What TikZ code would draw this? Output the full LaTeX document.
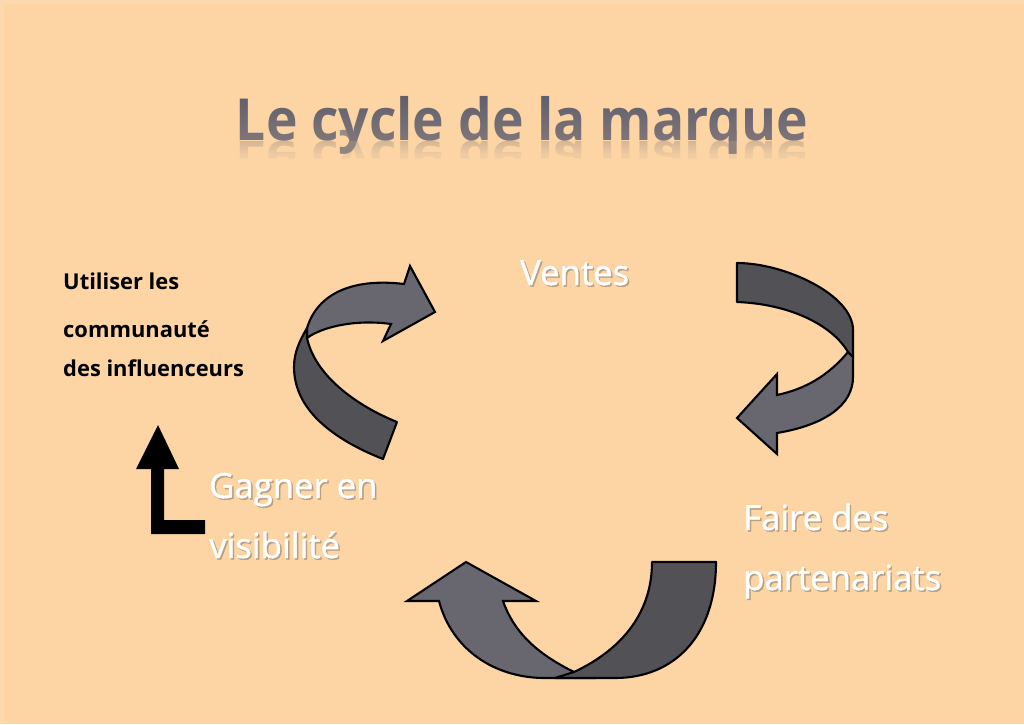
\documentclass[tikz,border=0pt]{standalone}
\usepackage{fontspec}
\setmainfont{Open Sans}
\newfontfamily\labelfont[FakeBold=1.2]{Open Sans}
\usepackage{xcolor}
\usetikzlibrary{fadings}
\definecolor{backcolor}{HTML}{FDD5A5}
\definecolor{edgecolor}{HTML}{FDD9AF}
\definecolor{bandcolor}{HTML}{525156}
\definecolor{headcolor}{HTML}{68666E}
\definecolor{shadowcolor}{HTML}{B9A081}
\definecolor{titlecolor}{HTML}{4A4E66}
\newcommand{\softtext}[1]{\leavevmode\rlap{\kern1.5pt\raisebox{-1.5pt}{\textcolor{shadowcolor}{#1}}}#1}
\tikzfading[name=titlefade,top color=transparent!90,bottom color=transparent!70]
\tikzfading[name=mirrorfade,top color=transparent!50,bottom color=transparent!0]
\tikzset{
  band/.style={draw=black,line width=2.1pt,line join=round,fill=bandcolor},
  head/.style={draw=black,line width=2.1pt,line join=miter,fill=headcolor},
  bigtext/.style={anchor=base west,inner sep=0pt,text=white,font=\fontsize{34.7}{34.7}\labelfont},
  smalltext/.style={anchor=base west,inner sep=0pt,text=black,font=\fontsize{21.9}{21.9}\selectfont\bfseries},
  titletext/.style={anchor=base,inner sep=0pt,font=\fontsize{58}{58}\selectfont\bfseries}
}
\begin{document}
\begin{tikzpicture}[x=1pt,y=-1pt]
  \fill[backcolor] (0,0) rectangle (1024,724);
  \useasboundingbox (0,0) rectangle (1024,724);
  \draw[edgecolor,line width=4pt] (2,724) -- (2,2) -- (1024,2);

  % title and its mirror image
  \node[titletext,text=titlecolor!75!backcolor,xscale=0.92,yscale=-0.8] (mirror) at (522,141) {Le cycle de la marque};
  \fill[backcolor,path fading=mirrorfade] (225,141) rectangle (820,160);
  \fill[backcolor] (225,159) rectangle (820,185);
  \node[titletext,text=titlecolor,xscale=0.92] (title) at (522,140) {Le cycle de la marque};
  \fill[backcolor,path fading=titlefade] (225,90) rectangle (820,141);
  \fill[backcolor,opacity=0.4] (225,141) rectangle (820,156);

  % right arrow
  \coordinate (rightA) at (737,263);
  \coordinate (rightB) at (737,302);
  \coordinate (rightC) at (853,357);
  \coordinate (rightD) at (848,352);
  \draw[head] (rightD)
    .. controls (828,376) and (805,389) .. (777,395)
    -- (777,374) -- (737,418) -- (777,454) -- (777,433)
    .. controls (825,425) and (853,405) .. (853,377)
    -- (rightC) -- cycle;
  \draw[band] (rightA) -- (rightB)
    .. controls (790,304) and (832,325) .. (rightD)
    -- (rightC) -- (853,330)
    .. controls (853,295) and (785,263) .. (rightA) -- cycle;

  % bottom arrow
  \coordinate (lowA) at (652,562);
  \coordinate (lowB) at (716,562);
  \coordinate (lowC) at (574,672);
  \draw[head] (lowC)
    .. controls (540,655) and (515,635) .. (503,601)
    -- (536,601) -- (466,562) -- (407,601) -- (439,601)
    .. controls (452,650) and (495,678) .. (545,678)
    -- (590,678) -- cycle;
  \draw[band] (lowA) -- (lowB)
    .. controls (716,635) and (675,678) .. (615,678)
    -- (555,678) -- (lowC)
    .. controls (625,648) and (652,610) .. (lowA) -- cycle;

  % left arrow
  \coordinate (leftA) at (397,422);
  \coordinate (leftB) at (383,459);
  \coordinate (leftC) at (307,328);
  \coordinate (leftD) at (307,338);
  \draw[head] (leftD)
    .. controls (322,327) and (355,319) .. (391,324)
    -- (383,341) -- (435,312) -- (410,266) -- (404,284)
    .. controls (355,278) and (318,292) .. (leftC) -- cycle;
  \draw[band] (leftA) -- (leftB)
    .. controls (330,438) and (294,408) .. (294,367)
    .. controls (294,352) and (300,340) .. (leftC)
    -- (leftD)
    .. controls (315,375) and (355,405) .. (leftA) -- cycle;

  % black corner arrow
  \fill[black] (158,425) -- (179,469) -- (164,469) -- (164,520) -- (205,520)
    -- (205,534) -- (151,534) -- (151,469) -- (136,469) -- cycle;

  % labels
  \node[bigtext] (ventes) at (520,285) {\softtext{Ventes}};
  \node[bigtext] (faire) at (743,530) {\softtext{Faire des}};
  \node[bigtext] (partenariats) at (743,590) {\softtext{partenariats}};
  \node[bigtext] (gagner) at (209,498) {\softtext{Gagner en}};
  \node[bigtext] (visibilite) at (209,558) {\softtext{visibilité}};
  \node[smalltext] (utiliser) at (63,289) {Utiliser les};
  \node[smalltext] (communaute) at (63,337) {communauté};
  \node[smalltext] (influenceurs) at (63,376) {des influenceurs};
\end{tikzpicture}
\end{document}
